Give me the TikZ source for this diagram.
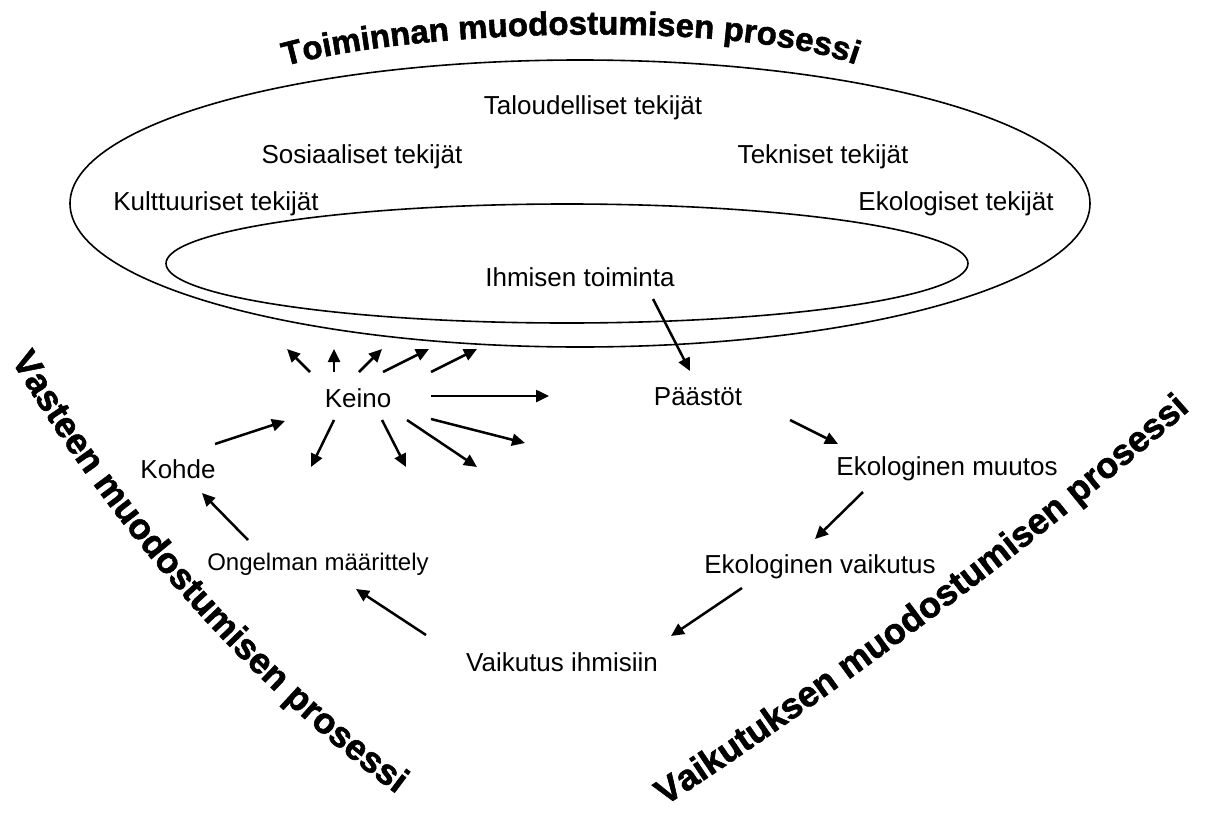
\documentclass[tikz,border=0pt]{standalone}
\usepackage{fontspec}
\setmainfont{Liberation Sans}
\newfontfamily\heavyfont{Liberation Sans}[UprightFont=* Bold, FakeBold=1.6]
\usetikzlibrary{arrows.meta,decorations.text,calc,shapes.geometric}
\begin{document}
\begin{tikzpicture}[x=1pt,y=1pt,
  lbl/.style={font=\fontsize{26}{30}\selectfont, inner sep=0pt},
  arr/.style={line width=2.5pt, -{Triangle[length=13pt,width=12pt]}},
  ell/.style={ellipse, draw, line width=1.6pt, inner sep=0pt},
  ]
\useasboundingbox (0,0) rectangle (1208,-814);

% process ellipses
\node[ell, minimum width=1020, minimum height=287] (outer) at (580,-203.5) {};
\node[ell, minimum width=802, minimum height=119] (inner) at (567,-263.5) {};

% factors
\node[lbl] (talous) at (593,-108) {Taloudelliset tekijät};
\node[lbl] (sosiaal) at (362,-157) {Sosiaaliset tekijät};
\node[lbl] (tekn) at (823,-157) {Tekniset tekijät};
\node[lbl] (kult) at (216,-204) {Kulttuuriset tekijät};
\node[lbl] (ekol) at (956,-204) {Ekologiset tekijät};
\node[lbl] (ihm) at (580,-277) {Ihmisen toiminta};

% chain nodes
\node[lbl] (keino) at (358,-398) {Keino};
\node[lbl] (paastot) at (698,-397) {Päästöt};
\node[lbl] (kohde) at (178,-469) {Kohde};
\node[lbl, font=\fontsize{24}{28}\selectfont] (ongelma) at (318,-564) {Ongelman määrittely};
\node[lbl] (vaikih) at (562,-662) {Vaikutus ihmisiin};
\node[lbl] (ekmuutos) at (947,-469) {Ekologinen muutos};
\node[lbl] (ekvaik) at (820,-567) {Ekologinen vaikutus};

% impact chain
\draw[arr] ($(ihm)+(73,-22)$) -- ($(paastot)+(-8,26)$);
\draw[arr] ($(paastot)+(92,-23)$) -- ($(ekmuutos)+(-109,25)$);
\draw[arr] ($(ekmuutos)+(-84,-23)$) -- ($(ekvaik)+(-5,28)$);
\draw[arr] ($(ekvaik)+(-78,-21)$) -- ($(vaikih)+(109,26)$);
% response chain
\draw[arr] ($(vaikih)+(-136,27)$) -- ($(ongelma)+(38,-25)$);
\draw[arr] ($(ongelma)+(-70,24)$) -- ($(kohde)+(24,-24)$);
\draw[arr] ($(kohde)+(37,25)$) -- ($(keino)+(-73,-23)$);

% free ends of the Keino arrows
\coordinate (ka) at (287,-349);
\coordinate (kb) at (334,-349);
\coordinate (kc) at (382,-349);
\coordinate (kd) at (429,-349);
\coordinate (ke) at (477,-349);
\coordinate (kf) at (549,-396);
\coordinate (kg) at (525,-443);
\coordinate (kh) at (477,-467);
\coordinate (ki) at (406,-467);
\coordinate (kj) at (311,-467);
\draw[arr] ($(keino)+(-48,26)$) -- (ka);
\draw[arr] ($(keino)+(-24,26)$) -- (kb);
\draw[arr] ($(keino)+(1,26)$) -- (kc);
\draw[arr] ($(keino)+(25,26)$) -- (kd);
\draw[arr] ($(keino)+(73,26)$) -- (ke);
\draw[arr] ($(keino)+(73,2)$) -- (kf);
\draw[arr] ($(keino)+(73,-21)$) -- (kg);
\draw[arr] ($(keino)+(49,-22)$) -- (kh);
\draw[arr] ($(keino)+(24,-22)$) -- (ki);
\draw[arr] ($(keino)+(-24,-22)$) -- (kj);

% curved titles
\path[decorate, decoration={text along path, text align=left,
  text={|\heavyfont\fontsize{33}{40}\selectfont|Toiminnan muodostumisen prosessi}}]
  (285,-66) .. controls (420,-28) and (760,-18) .. (874,-72);
\path[decorate, decoration={text along path, text align=left,
  text={|\heavyfont\fontsize{36}{42}\selectfont|Vasteen muodostumisen prosessi}}]
  (11,-360) .. controls (114,-532) and (250,-688) .. (410,-804);
\path[decorate, decoration={text along path, text align=left,
  text={|\heavyfont\fontsize{36}{42}\selectfont|Vaikutuksen muodostumisen prosessi}}]
  (665,-806) .. controls (833,-697) and (1057,-530) .. (1208,-394);
\end{tikzpicture}
\end{document}
